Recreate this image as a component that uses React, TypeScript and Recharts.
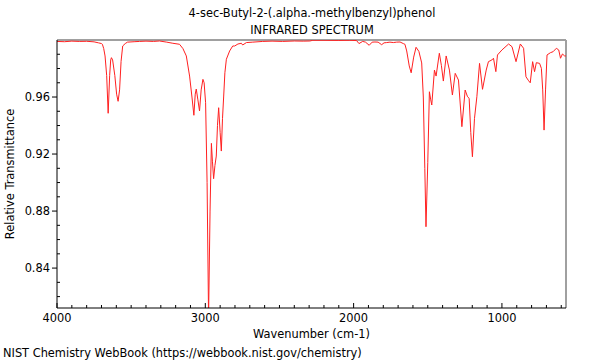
import { LineChart, Line, XAxis, YAxis, ReferenceLine } from 'recharts';

const wavenumbers = [
  4000, 3950, 3900, 3850, 3800, 3750, 3720, 3700, 3694, 3685, 3676, 3665, 3655, 3645, 3638, 3633,
  3625, 3610, 3598, 3588, 3578, 3568, 3557, 3540, 3525, 3480, 3444, 3400, 3350, 3309, 3260, 3219,
  3174, 3151, 3128, 3106, 3090, 3077, 3068, 3061, 3050, 3039, 3028, 3016, 3008, 2998, 2988, 2978,
  2968, 2959, 2952, 2944, 2935, 2926, 2918, 2910, 2900, 2892, 2884, 2876, 2868, 2858, 2836, 2815,
  2802, 2780, 2757, 2748, 2723, 2680, 2613, 2550, 2480, 2400, 2340, 2295, 2275, 2200, 2100, 2030,
  1980, 1964, 1939, 1920, 1895, 1875, 1856, 1835, 1811, 1795, 1777, 1755, 1732, 1710, 1687, 1665,
  1654, 1642, 1625, 1612, 1595, 1579, 1560, 1541, 1530, 1520, 1512, 1500, 1489, 1480, 1473, 1455,
  1444, 1422, 1408, 1395, 1376, 1354, 1334, 1315, 1293, 1270, 1248, 1232, 1221, 1210, 1199, 1185,
  1169, 1151, 1131, 1106, 1091, 1068, 1057, 1041, 1030, 1000, 955, 932, 905, 876, 854, 838,
  820, 809, 793, 780, 768, 746, 734, 725, 716, 706, 696, 673, 655, 633, 617, 605,
  592, 577, 568,
];

const transmittance = [
  0.999, 0.9988, 0.9992, 0.999, 0.9991, 0.9987, 0.998, 0.9975, 0.997, 0.994, 0.9888, 0.975, 0.9486, 0.975, 0.986, 0.9876,
  0.986, 0.975, 0.962, 0.957, 0.965, 0.985, 0.9958, 0.9975, 0.9985, 0.9988, 0.999, 0.9992, 0.999, 0.9993, 0.9985, 0.9977,
  0.997, 0.994, 0.9888, 0.9747, 0.96, 0.9472, 0.962, 0.9656, 0.958, 0.9502, 0.965, 0.9724, 0.97, 0.956, 0.9, 0.805,
  0.88, 0.9275, 0.915, 0.9027, 0.912, 0.9186, 0.94, 0.9525, 0.935, 0.9221, 0.945, 0.9607, 0.977, 0.9865, 0.9923, 0.9958,
  0.9958, 0.9972, 0.9977, 0.9965, 0.9982, 0.9985, 0.999, 0.9992, 0.999, 0.9993, 0.9992, 0.9993, 0.9998, 0.9998, 0.9997, 0.9998,
  0.9996, 0.9975, 0.999, 0.9985, 0.9963, 0.9985, 0.9986, 0.9985, 0.9967, 0.998, 0.9982, 0.9985, 0.9982, 0.9985, 0.9986, 0.9975,
  0.997, 0.9923, 0.9818, 0.977, 0.988, 0.9949, 0.992, 0.9839, 0.96, 0.91, 0.869, 0.914, 0.9637, 0.958, 0.9544, 0.9789,
  0.9747, 0.9907, 0.982, 0.9712, 0.9888, 0.9789, 0.9614, 0.9766, 0.9719, 0.9392, 0.9649, 0.9602, 0.9591, 0.935, 0.9181, 0.945,
  0.9602, 0.9836, 0.9654, 0.9789, 0.9848, 0.986, 0.9872, 0.9778, 0.9895, 0.993, 0.9972, 0.9953, 0.9848, 0.9972, 0.9942, 0.9742,
  0.9714, 0.97, 0.9848, 0.9778, 0.9841, 0.9836, 0.9801, 0.965, 0.9368, 0.965, 0.9895, 0.9911, 0.9918, 0.9942, 0.993, 0.9872,
  0.9902, 0.9888, 0.9888,
];

const xTicks = [
  4000, 3900, 3800, 3700, 3600, 3500, 3400, 3300, 3200, 3100, 3000, 2900, 2800, 2700, 2600, 2500, 2400,
  2300, 2200, 2100, 2000, 1900, 1800, 1700, 1600, 1500, 1400, 1300, 1200, 1100, 1000, 900, 800, 700, 600,
];
const xLabels = [4000, 3000, 2000, 1000];

const yTicks = [
  0.82, 0.83, 0.84, 0.85, 0.86, 0.87, 0.88, 0.89, 0.9, 0.91, 0.92, 0.93, 0.94, 0.95, 0.96, 0.97, 0.98, 0.99,
];
const yLabels = [0.84, 0.88, 0.92, 0.96];

const data = wavenumbers.map((w, i) => ({ wn: w, t: transmittance[i] }));

const font = '"DejaVu Sans", sans-serif';
const fs = 11.4;

function XTick(props: any) {
  const { x, y, payload } = props;
  const major = xLabels.includes(payload.value);
  return (
    <g>
      <line x1={x} y1={y} x2={x} y2={y - (major ? 5 : 3)} stroke="#000" strokeWidth={1} />
      {major && (
        <text x={x} y={y + 14} textAnchor="middle" fontSize={fs} fontFamily={font} fill="#000">
          {payload.value}
        </text>
      )}
    </g>
  );
}

function YTick(props: any) {
  const { x, y, payload } = props;
  const major = yLabels.some((v) => Math.abs(v - payload.value) < 1e-6);
  return (
    <g>
      {major ? (
        <line x1={x} y1={y} x2={x - 5} y2={y} stroke="#000" strokeWidth={1} />
      ) : (
        <line x1={x} y1={y} x2={x + 3} y2={y} stroke="#000" strokeWidth={1} />
      )}
      {major && (
        <text x={x - 7} y={y + 4} textAnchor="end" fontSize={fs} fontFamily={font} fill="#000">
          {payload.value.toFixed(2)}
        </text>
      )}
    </g>
  );
}

export default function App() {
  return (
    <div style={{ position: 'absolute', left: 0, top: 0, width: 600, height: 360, background: '#fff' }}>
      <LineChart width={600} height={360} data={data} margin={{ top: 40, right: 34, bottom: 0, left: 0 }}>
        <XAxis
          dataKey="wn"
          type="number"
          domain={[568, 4000]}
          reversed
          allowDataOverflow
          ticks={xTicks}
          interval={0}
          height={52}
          tickSize={0}
          tickMargin={0}
          tickLine={false}
          tick={<XTick />}
          axisLine={{ stroke: '#000', strokeWidth: 1 }}
          label={{ value: 'Wavenumber (cm-1)', position: 'insideBottom', offset: 22, fontSize: fs, fontFamily: font, fill: '#000' }}
        />
        <YAxis
          type="number"
          domain={[0.812, 1.0]}
          allowDataOverflow
          ticks={yTicks}
          interval={0}
          width={57}
          tickSize={0}
          tickMargin={0}
          tickLine={false}
          tick={<YTick />}
          axisLine={{ stroke: '#000', strokeWidth: 1 }}
          label={{ value: 'Relative Transmittance', angle: -90, position: 'insideLeft', offset: 10, fontSize: fs, fontFamily: font, fill: '#000', style: { textAnchor: 'middle' } }}
        />
        <ReferenceLine y={1.0} stroke="#a0a0a0" strokeWidth={2} />
        <ReferenceLine x={568} stroke="#a0a0a0" strokeWidth={2} />
        <Line
          type="linear"
          dataKey="t"
          stroke="#ff2020"
          strokeWidth={1}
          dot={false}
          isAnimationActive={false}
        />
      </LineChart>
      <svg width={600} height={360} style={{ position: 'absolute', left: 0, top: 0, pointerEvents: 'none' }}>
        <text x={312} y={17} textAnchor="middle" fontSize={fs} fontFamily={font} fill="#000">
          4-sec-Butyl-2-(.alpha.-methylbenzyl)phenol
        </text>
        <text x={312} y={34} textAnchor="middle" fontSize={fs} fontFamily={font} fill="#000">
          INFRARED SPECTRUM
        </text>
        <text x={3} y={357} fontSize={fs} fontFamily={font} fill="#000">
          NIST Chemistry WebBook (https://webbook.nist.gov/chemistry)
        </text>
      </svg>
    </div>
  );
}
